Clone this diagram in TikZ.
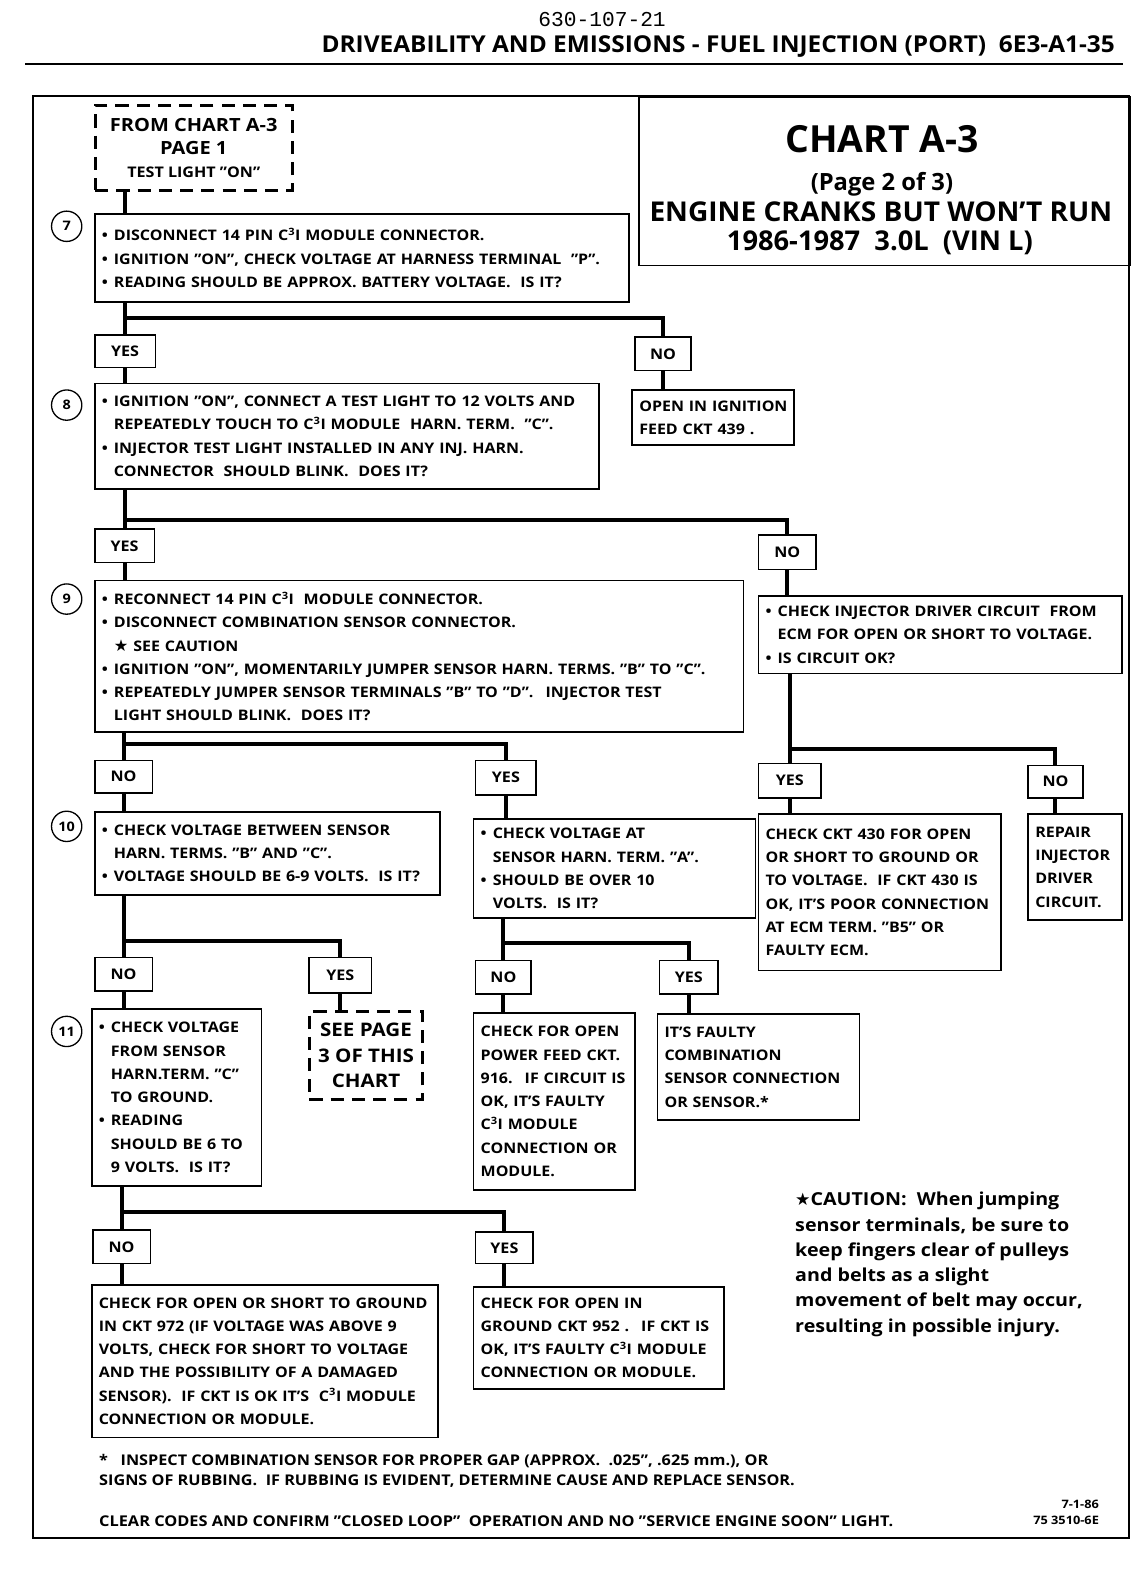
\documentclass[tikz,border=0pt]{standalone}
\usepackage{fontspec}
\usepackage{graphicx}
\setmainfont{Open Sans}[FakeStretch=1.1]
\newfontfamily\plainf{Open Sans}
\newfontfamily\monof{Liberation Mono}
\newfontfamily\symf{DejaVu Sans}
\newcommand\bodyf{\bfseries\fontsize{14.4}{23}\selectfont\hyphenpenalty=10000 }
\newcommand\bu{\makebox[12pt][l]{•}}
\newcommand\ind{\hspace*{12pt}}
\newcommand\cti{C\textsuperscript{3}I}
\tikzset{
  bx/.style={draw, line width=1.6pt, anchor=north west, align=left, inner xsep=7pt, inner ysep=0pt, font=\bodyf},
  lb/.style={draw, line width=1.6pt, anchor=north west, inner sep=0pt, font=\bfseries\fontsize{14.5}{14.5}\selectfont},
  dbox/.style={draw, line width=2.6pt, dash pattern=on 13pt off 8pt, anchor=north west, align=center, inner sep=0pt},
  circ/.style={circle, draw, line width=1.3pt, minimum size=30pt, inner sep=0pt, font=\bfseries\fontsize{13}{13}\selectfont},
  conn/.style={line width=4pt}
}
\begin{document}
\begin{tikzpicture}[x=1pt,y=-1pt]
\useasboundingbox (0,0) rectangle (1125,1568);
% header
\node[font=\monof\fontsize{21}{21}\selectfont] (pgnum) at (596,19) {630-107-21};
\node[anchor=east, font=\plainf\bfseries\fontsize{23}{23}\selectfont] (hdr) at (1107,46) {\scalebox{1.05}[1]{DRIVEABILITY AND EMISSIONS - FUEL INJECTION (PORT) \ 6E3-A1-35}};
\draw[line width=2pt] (25,63) -- (1112,63);
% frame
\draw[line width=2pt] (33,95) rectangle (1118,1522);
% title block
\node[draw, line width=1.6pt, anchor=north west, minimum width=486pt, minimum height=167pt, inner sep=0pt] (title) at (632,95) {};
\node[font=\plainf\bfseries\fontsize{37}{37}\selectfont] (t1) at (873,138) {CHART A-3};
\node[font=\plainf\bfseries\fontsize{23.5}{23.5}\selectfont] (t2) at (873,182) {(Page 2 of 3)};
\node[font=\plainf\bfseries\fontsize{27}{27}\selectfont] (t3) at (872,210) {\scalebox{1.03}[1]{ENGINE CRANKS BUT WON’T RUN}};
\node[font=\plainf\bfseries\fontsize{27}{27}\selectfont] (t4) at (871,240) {1986-1987 \ 3.0L \ (VIN L)};
% start box
\node[dbox, minimum width=195pt, minimum height=84pt, font=\bfseries\fontsize{18}{23}\selectfont] (start) at (93,103) {FROM CHART A-3\\PAGE 1\\{\fontsize{14.5}{23}\selectfont TEST LIGHT "ON"}};
% step 7
\node[circ] (n7) at (66,224) {7};
\node[bx, text width=515pt, minimum height=87pt] (b7) at (93,211) {\bu DISCONNECT 14 PIN \cti\ MODULE CONNECTOR.\\ \bu IGNITION "ON", CHECK VOLTAGE AT HARNESS TERMINAL \ "P".\\ \bu READING SHOULD BE APPROX. BATTERY VOLTAGE. \ IS IT?};
\node[lb, minimum width=60pt, minimum height=32pt] (yes1) at (93,331) {YES};
\node[lb, minimum width=55pt, minimum height=33pt] (no1) at (628,333) {NO};
\node[bx, inner xsep=4pt, text width=152pt, minimum height=55pt] (b8b) at (625,385) {\hspace*{3pt}OPEN IN IGNITION\\ \hspace*{3pt}FEED CKT 439 .};
% step 8
\node[circ] (n8) at (66,401) {8};
\node[bx, text width=485pt, minimum height=104pt] (b8) at (93,379) {\bu IGNITION "ON", CONNECT A TEST LIGHT TO 12 VOLTS AND\\ \ind REPEATEDLY TOUCH TO \cti\ MODULE \ HARN. TERM. \ "C".\\ \bu INJECTOR TEST LIGHT INSTALLED IN ANY INJ. HARN.\\ \ind CONNECTOR \ SHOULD BLINK. \ DOES IT?};
\node[lb, minimum width=59pt, minimum height=33pt] (yes2) at (93,523) {YES};
\node[lb, minimum width=57pt, minimum height=34pt] (no2) at (750,529) {NO};
% step 9
\node[circ] (n9) at (66,593) {9};
\node[bx, text width=628pt, minimum height=150pt] (b9) at (93,574) {\bu RECONNECT 14 PIN \cti\ \ MODULE CONNECTOR.\\ \bu DISCONNECT COMBINATION SENSOR CONNECTOR.\\ \ind{\symf\fontsize{16}{23}\selectfont ★} SEE CAUTION\\ \bu IGNITION "ON", MOMENTARILY JUMPER SENSOR HARN. TERMS. "B" TO "C".\\ \bu REPEATEDLY JUMPER SENSOR TERMINALS "B" TO "D". \ INJECTOR TEST\\ \ind LIGHT SHOULD BLINK. \ DOES IT?};
\node[bx, text width=346pt, minimum height=77pt] (bd) at (750,589) {\bu CHECK INJECTOR DRIVER CIRCUIT \ FROM\\ \ind ECM FOR OPEN OR SHORT TO VOLTAGE.\\ \bu IS CIRCUIT OK?};
\node[lb, minimum width=57pt, minimum height=32pt] (no3) at (93,752) {NO};
\node[lb, minimum width=60pt, minimum height=34pt] (yes3) at (470,752) {YES};
\node[lb, minimum width=62pt, minimum height=34pt] (yes4) at (750,755) {YES};
\node[lb, minimum width=54pt, minimum height=32pt] (no4) at (1017,757) {NO};
% step 10
\node[circ] (n10) at (66,818) {10};
\node[bx, text width=328pt, minimum height=82pt] (b10) at (93,803) {\bu CHECK VOLTAGE BETWEEN SENSOR\\ \ind HARN. TERMS. "B" AND "C".\\ \bu VOLTAGE SHOULD BE 6-9 VOLTS. \ IS IT?};
\node[bx, text width=265pt, minimum height=98pt] (ba) at (468,810) {\bu CHECK VOLTAGE AT\\ \ind SENSOR HARN. TERM. "A".\\ \bu SHOULD BE OVER 10\\ \ind VOLTS. \ IS IT?};
\node[bx, text width=226pt, minimum height=155pt] (bc) at (750,805) {CHECK CKT 430 FOR OPEN\\ OR SHORT TO GROUND OR\\ TO VOLTAGE. \ IF CKT 430 IS\\ OK, IT'S POOR CONNECTION\\ AT ECM TERM. "B5" OR\\ FAULTY ECM.};
\node[bx, text width=79pt, minimum height=105pt] (br) at (1017,805) {REPAIR\\ INJECTOR\\ DRIVER\\ CIRCUIT.};
\node[lb, minimum width=57pt, minimum height=33pt] (no5) at (93,947) {NO};
\node[lb, minimum width=62pt, minimum height=35pt] (yes5) at (305,947) {YES};
\node[lb, minimum width=55pt, minimum height=33pt] (no6) at (470,950) {NO};
\node[lb, minimum width=58pt, minimum height=33pt] (yes6) at (652,950) {YES};
% step 11
\node[circ] (n11) at (66,1021) {11};
\node[bx, text width=154pt, minimum height=175pt] (b11) at (90,998) {\bu CHECK VOLTAGE\\ \ind FROM SENSOR\\ \ind HARN.TERM. "C"\\ \ind TO GROUND.\\ \bu READING\\ \ind SHOULD BE 6 TO\\ \ind 9 VOLTS. \ IS IT?};
\node[dbox, minimum width=112pt, minimum height=87pt, font=\bfseries\fontsize{18.5}{25}\selectfont] (see3) at (305,1000) {SEE PAGE\\3 OF THIS\\CHART};
\node[bx, text width=146pt, minimum height=175pt] (bp) at (468,1002) {CHECK FOR OPEN\\ POWER FEED CKT.\\ 916. \ IF CIRCUIT IS\\ OK, IT'S FAULTY\\ \cti\ MODULE\\ CONNECTION OR\\ MODULE.};
\node[bx, text width=186pt, minimum height=105pt] (bf) at (650,1003) {IT'S FAULTY\\ COMBINATION\\ SENSOR CONNECTION\\ OR SENSOR.*};
\node[lb, minimum width=57pt, minimum height=33pt] (no7) at (91,1217) {NO};
\node[lb, minimum width=57pt, minimum height=31pt] (yes7) at (470,1219) {YES};
\node[bx, text width=329pt, minimum height=151pt] (bs) at (90,1271) {CHECK FOR OPEN OR SHORT TO GROUND\\ IN CKT 972 (IF VOLTAGE WAS ABOVE 9\\ VOLTS, CHECK FOR SHORT TO VOLTAGE\\ AND THE POSSIBILITY OF A DAMAGED\\ SENSOR). \ IF CKT IS OK IT'S \ \cti\ MODULE\\ CONNECTION OR MODULE.};
\node[bx, text width=234pt, minimum height=101pt] (bg) at (468,1273) {CHECK FOR OPEN IN\\ GROUND CKT 952 . \ IF CKT IS\\ OK, IT'S FAULTY \cti\ MODULE\\ CONNECTION OR MODULE.};
% caution
\node[anchor=north west, align=left, inner sep=0pt, font=\bfseries\fontsize{17.7}{25}\selectfont] (caution) at (787,1180) {{\symf\fontsize{17}{25}\selectfont ★}CAUTION: \ When jumping\\ sensor terminals, be sure to\\ keep fingers clear of pulleys\\ and belts as a slight\\ movement of belt may occur,\\ resulting in possible injury.};
% footnotes
\node[anchor=west, inner sep=0pt, font=\bfseries\fontsize{14.6}{14.6}\selectfont] (fn1) at (98,1446) {* \ \ INSPECT COMBINATION SENSOR FOR PROPER GAP (APPROX. \ .025", .625 mm.), OR};
\node[anchor=west, inner sep=0pt, font=\bfseries\fontsize{14.6}{14.6}\selectfont] (fn2) at (98,1466) {SIGNS OF RUBBING. \ IF RUBBING IS EVIDENT, DETERMINE CAUSE AND REPLACE SENSOR.};
\node[anchor=west, inner sep=0pt, font=\bfseries\fontsize{14.7}{14.7}\selectfont] (fn3) at (98,1506) {CLEAR CODES AND CONFIRM "CLOSED LOOP" \ OPERATION AND NO "SERVICE ENGINE SOON" LIGHT.};
\node[anchor=south east, align=right, inner sep=0pt, font=\bfseries\fontsize{11.5}{15}\selectfont] (code) at (1088,1509) {7-1-86\\75 3510-6E};
% connectors
\draw[conn] (start.south -| yes1) -- (b7.north -| yes1);
\draw[conn] (b7.south -| yes1) -- (yes1.north);
\draw[conn] (b7.south -| yes1) ++(0,15) -| (no1.north);
\draw[conn] (yes1.south) -- (b8.north -| yes1);
\draw[conn] (no1.south) -- (b8b.north -| no1);
\draw[conn] (b8.south -| yes2) -- (yes2.north);
\draw[conn] (b8.south -| yes2) ++(0,30) -| (no2.north);
\draw[conn] (yes2.south) -- (b9.north -| yes2);
\draw[conn] (no2.south) -- (bd.north -| no2);
\draw[conn] (b9.south -| no3) -- (no3.north);
\draw[conn] (b9.south -| no3) ++(0,11) -| (yes3.north);
\draw[conn] (no3.south) -- (b10.north -| no3);
\draw[conn] (yes3.south) -- (ba.north -| yes3);
\draw[conn] (bd.south -| yes4) -- (yes4.north);
\draw[conn] (bd.south -| yes4) ++(0,74) -| (no4.north);
\draw[conn] (yes4.south) -- (bc.north -| yes4);
\draw[conn] (no4.south) -- (br.north -| no4);
\draw[conn] (b10.south -| no5) -- (no5.north);
\draw[conn] (b10.south -| no5) ++(0,45) -| (yes5.north);
\draw[conn] (no5.south) -- (b11.north -| no5);
\draw[conn] (yes5.south) -- (see3.north -| yes5);
\draw[conn] (ba.south -| no6) -- (no6.north);
\draw[conn] (ba.south -| no6) ++(0,24) -| (yes6.north);
\draw[conn] (no6.south) -- (bp.north -| no6);
\draw[conn] (yes6.south) -- (bf.north -| yes6);
\draw[conn] (b11.south -| no7) -- (no7.north);
\draw[conn] (b11.south -| no7) ++(0,25) -| (yes7.north);
\draw[conn] (no7.south) -- (bs.north -| no7);
\draw[conn] (yes7.south) -- (bg.north -| yes7);
\end{tikzpicture}
\end{document}
